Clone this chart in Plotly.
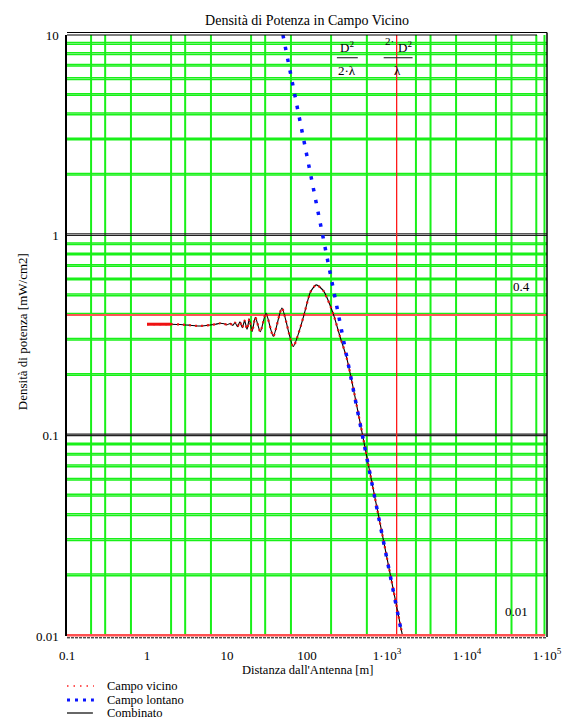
import plotly.graph_objects as go

# ---------------- data ----------------
# Near field ("Campo vicino") power density [mW/cm2] vs distance [m]
near_x = [1.0, 2.0, 2.6, 3.4, 4.3, 5.2, 6.2, 7.2, 8.2, 9.2,
          10.0, 11.0, 11.8, 12.6, 13.5, 14.5, 15.5, 16.6, 17.8, 19.0,
          20.6, 22.6, 26.1, 30.7, 37.9, 48.6, 67.2, 90, 110, 130,
          160, 211, 260, 313, 396, 600, 1000, 1550]
near_y = [0.360, 0.360, 0.359, 0.356, 0.353, 0.354, 0.357, 0.360, 0.364, 0.362,
          0.358, 0.363, 0.355, 0.367, 0.350, 0.370, 0.346, 0.375, 0.340, 0.382,
          0.331, 0.390, 0.330, 0.409, 0.313, 0.433, 0.279, 0.39, 0.52, 0.566,
          0.53, 0.41, 0.31, 0.245, 0.158, 0.068, 0.0245, 0.0102]
# first (dense, solid-looking) part of the near field trace
near_start_x = [1.0, 2.0]
near_start_y = [0.360, 0.360]
# Combined ("Combinato") starts at 2 m and then coincides with the near field
comb_x = near_x[1:]
comb_y = near_y[1:]
# Far field ("Campo lontano"), straight line on log-log axes
far_x = [50, 1550]
far_y = [10, 0.01]

# Grid / markers
x_grid = [0.2, 0.3, 0.63, 2, 3, 6.3, 20, 30, 63, 200, 560,
          2300, 3500, 7300, 23000, 36000, 73500, 93000]
y_grid = [2, 3, 4, 5, 6, 7, 8, 9,
          0.2, 0.3, 0.4, 0.5, 0.6, 0.7, 0.8, 0.9,
          0.02, 0.03, 0.04, 0.05, 0.06, 0.07, 0.08, 0.09]
y_decades = [1, 0.1]
marker_h = [0.4]          # horizontal marker (0.01 marker is on the bottom edge)
marker_v = [1320]         # 2*D^2/lambda
x_tick_vals = [0.1, 1, 10, 100, 1000, 1e4, 1e5]
x_tick_text = ["0.1", "1", "10", "100", "1·10<sup>3</sup>", "1·10<sup>4</sup>", "1·10<sup>5</sup>"]
y_tick_vals = [0.01, 0.1, 1, 10]
y_tick_text = ["0.01", "0.1", "1", "10"]

X_MIN, X_MAX = 0.1, 1e5
Y_MIN, Y_MAX = 0.01, 10

# ---------------- helpers ----------------
def vlines(xs):
    X, Y = [], []
    for v in xs:
        X += [v, v, None]
        Y += [Y_MIN, Y_MAX, None]
    return X, Y

def hlines(ys):
    X, Y = [], []
    for v in ys:
        X += [X_MIN, X_MAX, None]
        Y += [v, v, None]
    return X, Y

DBL = 10 ** (1.6 / 200.4)   # second line of each doubled grid line, ~1.6 px above

# the photographed page is squeezed horizontally by ~563/574, so lay out in a 574 px wide page
SX = 574 / 563
W, H = 574, 721
# plot area in reference pixels
L, R, T, B = 66, 548, 35, 636
def px(p):
    return (p - L) / (R - L)
def py(p):
    return (B - p) / (B - T)

fig = go.Figure()

GREEN = "#19f019"
gx, gy = vlines(x_grid)
fig.add_trace(go.Scatter(x=gx, y=gy, mode="lines", line=dict(color=GREEN, width=2), hoverinfo="skip"))
hx, hy = hlines(y_grid + [v * DBL for v in y_grid])
fig.add_trace(go.Scatter(x=hx, y=hy, mode="lines", line=dict(color=GREEN, width=1.5), hoverinfo="skip"))
dx, dy = hlines(y_decades + [v * DBL for v in y_decades])
fig.add_trace(go.Scatter(x=dx, y=dy, mode="lines", line=dict(color="#222222", width=1.2), hoverinfo="skip"))
mx, my = hlines(marker_h)
fig.add_trace(go.Scatter(x=mx, y=my, mode="lines", line=dict(color="#ff5555", width=2), hoverinfo="skip"))
vx, vy = vlines(marker_v)
fig.add_trace(go.Scatter(x=vx, y=vy, mode="lines", line=dict(color="#ff1a1a", width=1.3), hoverinfo="skip"))

# curves
fig.add_trace(go.Scatter(x=comb_x, y=comb_y, mode="lines", name="Combinato",
                         line=dict(color="black", width=1.1, shape="spline", smoothing=0.6)))
fig.add_trace(go.Scatter(x=near_x, y=near_y, mode="lines", name="Campo vicino",
                         line=dict(color="#e81010", width=2.2, dash="2px,4px", shape="spline", smoothing=0.6)))
fig.add_trace(go.Scatter(x=near_start_x, y=near_start_y, mode="lines", showlegend=False,
                         line=dict(color="#ee1111", width=3)))
fig.add_trace(go.Scatter(x=far_x, y=far_y, mode="lines", name="Campo lontano",
                         line=dict(color="#0a14ff", width=3.5, dash="3.5px,8.5px")))

shapes = []
def seg(x0, y0, x1, y1, color, width, dash=None):
    ln = dict(color=color, width=width)
    if dash:
        ln["dash"] = dash
    shapes.append(dict(type="line", xref="paper", yref="paper",
                       x0=px(x0), x1=px(x1), y0=py(y0), y1=py(y1), line=ln))

# frame
seg(L, 32.5, 548, 32.5, "black", 1.2)
seg(L, 35, 538, 35, "black", 1.2)
seg(548, 32.5, 548, 637, "black", 1.5)
# bottom red marker (0.01) and dashed x axis
seg(L, 635.3, 546, 635.3, "#ff5050", 2.6)
seg(L, 637.8, 548, 637.8, "black", 1, "3px,1px")
# fraction bars
seg(337, 57.7, 358, 57.7, "#333333", 1.2)
seg(384, 57.7, 413, 57.7, "#333333", 1.2)
# legend samples
seg(66, 686, 93, 686, "#ff2020", 1.5, "1.5px,5px")
seg(66, 700, 93, 700, "#0a14ff", 3, "3px,5px")
seg(66, 713, 92, 713, "black", 1.2)

ann = []
def text(x, y, s, size=13, xanchor="center", angle=0):
    ann.append(dict(x=px(x), y=py(y), xref="paper", yref="paper", text=s, showarrow=False,
                    xanchor=xanchor, yanchor="middle", textangle=angle, font=dict(size=size)))

text(307, 670, "Distanza dall'Antenna [m]", 12.5)
text(21, 332, "Densità di potenza [mW/cm2]", 13, angle=-90)
text(522, 286, "0.4")
text(517, 611, "0.01")
text(347.5, 47, "D<sup>2</sup>", 13)
text(347.5, 71, "2·λ", 13)
text(390, 41, "2·", 11)
text(405.5, 47, "D<sup>2</sup>", 13)
text(397.5, 71, "λ", 13)
text(104, 686, "Campo vicino", 12.5, "left")
text(104, 700, "Campo lontano", 12.5, "left")
text(104, 713, "Combinato", 12.5, "left")

fig.update_layout(
    width=W, height=H,
    margin=dict(l=L * SX, r=W - R * SX, t=T, b=H - B, pad=0),
    paper_bgcolor="white", plot_bgcolor="white", showlegend=False,
    font=dict(family="Liberation Serif, Times New Roman, serif", size=13, color="black"),
    title=dict(text="Densità di Potenza in Campo Vicino", x=0.5, xref="paper", xanchor="center",
               y=1 - 20.5 / H, yref="container", yanchor="middle", font=dict(size=14)),
    xaxis=dict(type="log", range=[-1, 5], tickvals=x_tick_vals, ticktext=x_tick_text,
               ticks="outside", ticklen=7, tickcolor="rgba(0,0,0,0)", showgrid=False,
               zeroline=False, showline=False, tickfont=dict(size=13)),
    yaxis=dict(type="log", range=[-2, 1], tickvals=y_tick_vals, ticktext=y_tick_text,
               ticks="outside", ticklen=4, tickcolor="rgba(0,0,0,0)", showgrid=False,
               zeroline=False, showline=True, linecolor="black", linewidth=1.5, tickfont=dict(size=13)),
    shapes=shapes, annotations=ann,
)

# remove the default 8px page margin so the figure fills the window exactly
fig.write_html("out.html", config={"displayModeBar": False},
               post_script="document.body.style.margin='0px';document.body.style.overflow='hidden';")
